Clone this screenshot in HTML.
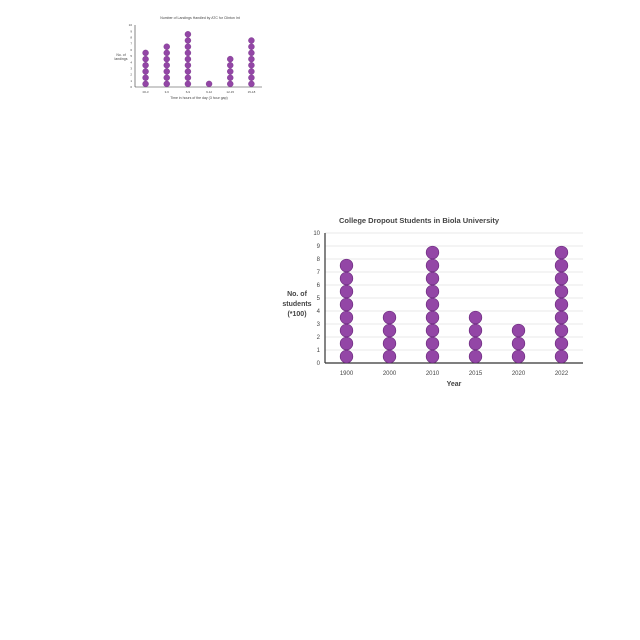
<!DOCTYPE html>
<html><head><meta charset="utf-8"><style>
body{margin:0;background:#fff;width:640px;height:640px;overflow:hidden}
svg{position:absolute;left:0;top:0}
text{font-family:"Liberation Sans",sans-serif}
</style></head><body>
<svg id="s" width="640" height="640">
<g id="small">
<text x="200" y="19" font-size="3.5" text-anchor="middle" fill="#444">Number of Landings Handled by ATC for Clinton Int</text>
<text x="121" y="56" font-size="3.5" text-anchor="middle" fill="#444"><tspan x="121">No. of</tspan><tspan x="121" dy="4">landings</tspan></text>
<text x="199" y="99" font-size="3.5" text-anchor="middle" fill="#444">Time in hours of the day (3 hour gap)</text>
</g>
<g id="main">
<text x="419" y="223" font-size="7.5" font-weight="bold" text-anchor="middle" fill="#444">College Dropout Students in Biola University</text>
<text x="297" y="296" font-size="7" font-weight="bold" text-anchor="middle" fill="#444"><tspan x="297">No. of</tspan><tspan x="297" dy="10">students</tspan><tspan x="297" dy="10">(*100)</tspan></text>
<text x="454" y="386" font-size="7" font-weight="bold" text-anchor="middle" fill="#444">Year</text>
</g>
</svg>
<script>
const mainCategories=["1900","2000","2010","2015","2020","2022"];
const mainValues=[8,4,9,4,3,9];
const mainTicks=[0,1,2,3,4,5,6,7,8,9,10];
const smallCategories=["00-3","3-6","6-9","9-12","12-15","15-18"];
const smallValues=[6,7,9,1,5,8];
const smallTicks=[0,1,2,3,4,5,6,7,8,9,10];
const NS="http://www.w3.org/2000/svg";
function mk(parent,tag,attrs){const e=document.createElementNS(NS,tag);for(const k in attrs)e.setAttribute(k,attrs[k]);parent.appendChild(e);return e;}
function draw(g,cfg,cats,vals,ticks){
  const yMax=ticks[ticks.length-1];
  const y=v=>cfg.y0-(cfg.y0-cfg.y1)*v/yMax;
  const band=(cfg.x1-cfg.x0)/cats.length;
  const x=i=>cfg.x0+band*(i+0.5);
  ticks.forEach(t=>{
    if(cfg.grid&&t>0){const l=mk(g,"line",{x1:cfg.x0,x2:cfg.x1,y1:y(t),y2:y(t),stroke:"#e3e3e3","stroke-width":0.8});
      
      }
    const tx=mk(g,"text",{x:cfg.x0-cfg.tickOff,y:y(t)+cfg.fs*0.35,"font-size":cfg.fs,"text-anchor":"end",fill:"#444"});
    tx.textContent=t;
    
    
  });
  const ya=mk(g,"line",{x1:cfg.x0,x2:cfg.x0,y1:cfg.y1,y2:cfg.y0,stroke:"#333","stroke-width":cfg.axw});
  
  
  const xa=mk(g,"line",{x1:cfg.x0,x2:cfg.x1,y1:cfg.y0,y2:cfg.y0,stroke:"#333","stroke-width":cfg.axw});
  
  
  cats.forEach((c,i)=>{
    const tx=mk(g,"text",{x:x(i),y:cfg.y0+cfg.xlOff,"font-size":cfg.fs,"text-anchor":"middle",fill:"#444"});
    tx.textContent=c;
    
    
    for(let k=0;k<vals[i];k++){
      const d=mk(g,"circle",{cx:x(i),cy:y(k+0.5),r:cfg.r,fill:"#9346a6",stroke:"#6e2c80","stroke-width":cfg.axw*0.6});
      
      
    }
  });
}
draw(document.getElementById("main"),{x0:325,x1:583,y0:363,y1:233,r:6.3,fs:6,tickOff:5,xlOff:12,axw:1.2,grid:true},mainCategories,mainValues,mainTicks);
draw(document.getElementById("small"),{x0:135,x1:262,y0:87,y1:25,r:3,fs:3,tickOff:3,xlOff:6,axw:0.6,grid:false},smallCategories,smallValues,smallTicks);
</script>
</body></html>
